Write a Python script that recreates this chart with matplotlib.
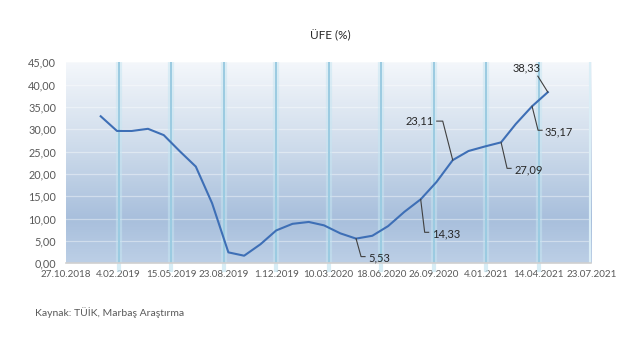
import datetime as dt
import numpy as np
import matplotlib
matplotlib.use("Agg")
import matplotlib.pyplot as plt
import matplotlib.dates as mdates
from matplotlib.colors import LinearSegmentedColormap

plt.rcParams['font.family'] = ['Lato', 'DejaVu Sans']

# Monthly PPI (ÜFE), yearly % change, Jan 2019 - May 2021
months = [dt.date(2019 + (m // 12), m % 12 + 1, 1) for m in range(29)]
ufe = [32.93, 29.64, 29.64, 30.12, 28.71, 25.04, 21.66, 13.45, 2.45, 1.70,
       4.26, 7.36, 8.84, 9.26, 8.50, 6.71, 5.53, 6.17, 8.33, 11.53,
       14.33, 18.20, 23.11, 25.15, 26.16, 27.09, 31.20, 35.17, 38.33]

# labelled points: index -> (elbow dx, elbow dy) in pixels, y pointing down
labelled = {16: (5, 18), 20: (4, 33), 22: (-10, -39), 25: (6, 26), 27: (6, 24), 28: (-10, -16)}

tick_start = dt.date(2018, 10, 27)
tick_dates = [tick_start + dt.timedelta(days=100 * i) for i in range(11)]
tick_labels = [f"{d.day}.{d.month:02d}.{d.year}" for d in tick_dates]
y_ticks = np.arange(0, 45.1, 5)

fig = plt.figure(figsize=(6.3, 3.39), dpi=100)
ax = fig.add_axes([0.1048, 0.2233, 0.834, 0.5927])

x0 = mdates.date2num(tick_dates[0])
x1 = mdates.date2num(tick_dates[-1])
ax.set_xlim(x0, x1)
ax.set_ylim(0, 45)

# pixel -> data scale
ax_w = 0.834 * 630
ax_h = 0.5927 * 339
sx = (x1 - x0) / ax_w
sy = 45 / ax_h

# gradient fill of the plot area
cmap = LinearSegmentedColormap.from_list(
    'bg', [(0.0, '#bccfe6'), (0.22, '#a8bfdc'), (0.6, '#d0ddec'), (1.0, '#f4f7fb')])
grad = np.linspace(0, 1, 256).reshape(-1, 1)
ax.imshow(grad, cmap=cmap, aspect='auto', origin='lower',
          extent=[x0, x1, 0, 45], zorder=0)

# horizontal grid
for yv in y_ticks[1:]:
    ax.axhline(yv, color='white', lw=0.9, alpha=0.4, zorder=1)

# glowing vertical lines at the date ticks
for d in tick_dates[1:-1]:
    xv = mdates.date2num(d)
    ax.axvline(xv, color='#c6e6f2', lw=4.5, alpha=0.5, zorder=1)
    ax.axvline(xv, color='#9bcbe1', lw=1.4, zorder=1)
    ax.plot([xv, xv], [-0.4, -1.6], color='#c6e6f2', lw=3, alpha=0.7, clip_on=False)
ax.axvline(x1, color='#dbeef6', lw=3, zorder=1)

xs = mdates.date2num(months)
ax.plot(xs, ufe, color='#3e6fb6', lw=1.5, zorder=3)

# data labels with leader lines
lead = '#404040'
for i, (ex, ey) in labelled.items():
    xp, yp = xs[i], ufe[i]
    txt = f"{ufe[i]:.2f}".replace('.', ',')
    xe, ye = xp + ex * sx, yp - ey * sy
    if i == 28:
        ax.plot([xp, xe], [yp, ye], color=lead, lw=0.8, zorder=4)
        ax.text(xe - 11 * sx, ye + 8 * sy, txt, fontsize=8, color='#262626',
                va='center', ha='center', zorder=5, clip_on=False)
    elif ex > 0:
        ax.plot([xp, xe, xe + 4 * sx], [yp, ye, ye], color=lead, lw=0.8, zorder=4)
        ax.text(xe + 7 * sx, ye - 1.5 * sy, txt, fontsize=8, color='#262626',
                va='center', ha='left', zorder=5)
    else:
        ax.plot([xp, xe, xe - 6 * sx], [yp, ye, ye], color=lead, lw=0.8, zorder=4)
        ax.text(xe - 9 * sx, ye, txt, fontsize=8, color='#262626',
                va='center', ha='right', zorder=5)

ax.set_yticks(y_ticks)
ax.set_yticklabels([f"{v:.2f}".replace('.', ',') for v in y_ticks])
ax.set_xticks(mdates.date2num(tick_dates))
ax.set_xticklabels(tick_labels)
ax.tick_params(axis='both', length=0, labelcolor='#595959')
ax.tick_params(axis='x', pad=5, labelsize=7.1)
ax.tick_params(axis='y', pad=7, labelsize=7.8)

for s in ['top', 'left', 'right']:
    ax.spines[s].set_visible(False)
ax.spines['bottom'].set_color('#d0d0d0')
ax.spines['bottom'].set_linewidth(1.2)

fig.text(0.524, 0.894, 'ÜFE (%)', ha='center', va='center', fontsize=8.5, color='#262626')
fig.text(0.055, 0.077, 'Kaynak: TÜİK, Marbaş Araştırma', ha='left', va='center',
         fontsize=7.5, color='#595959')

fig.savefig('out.png', dpi=100)
